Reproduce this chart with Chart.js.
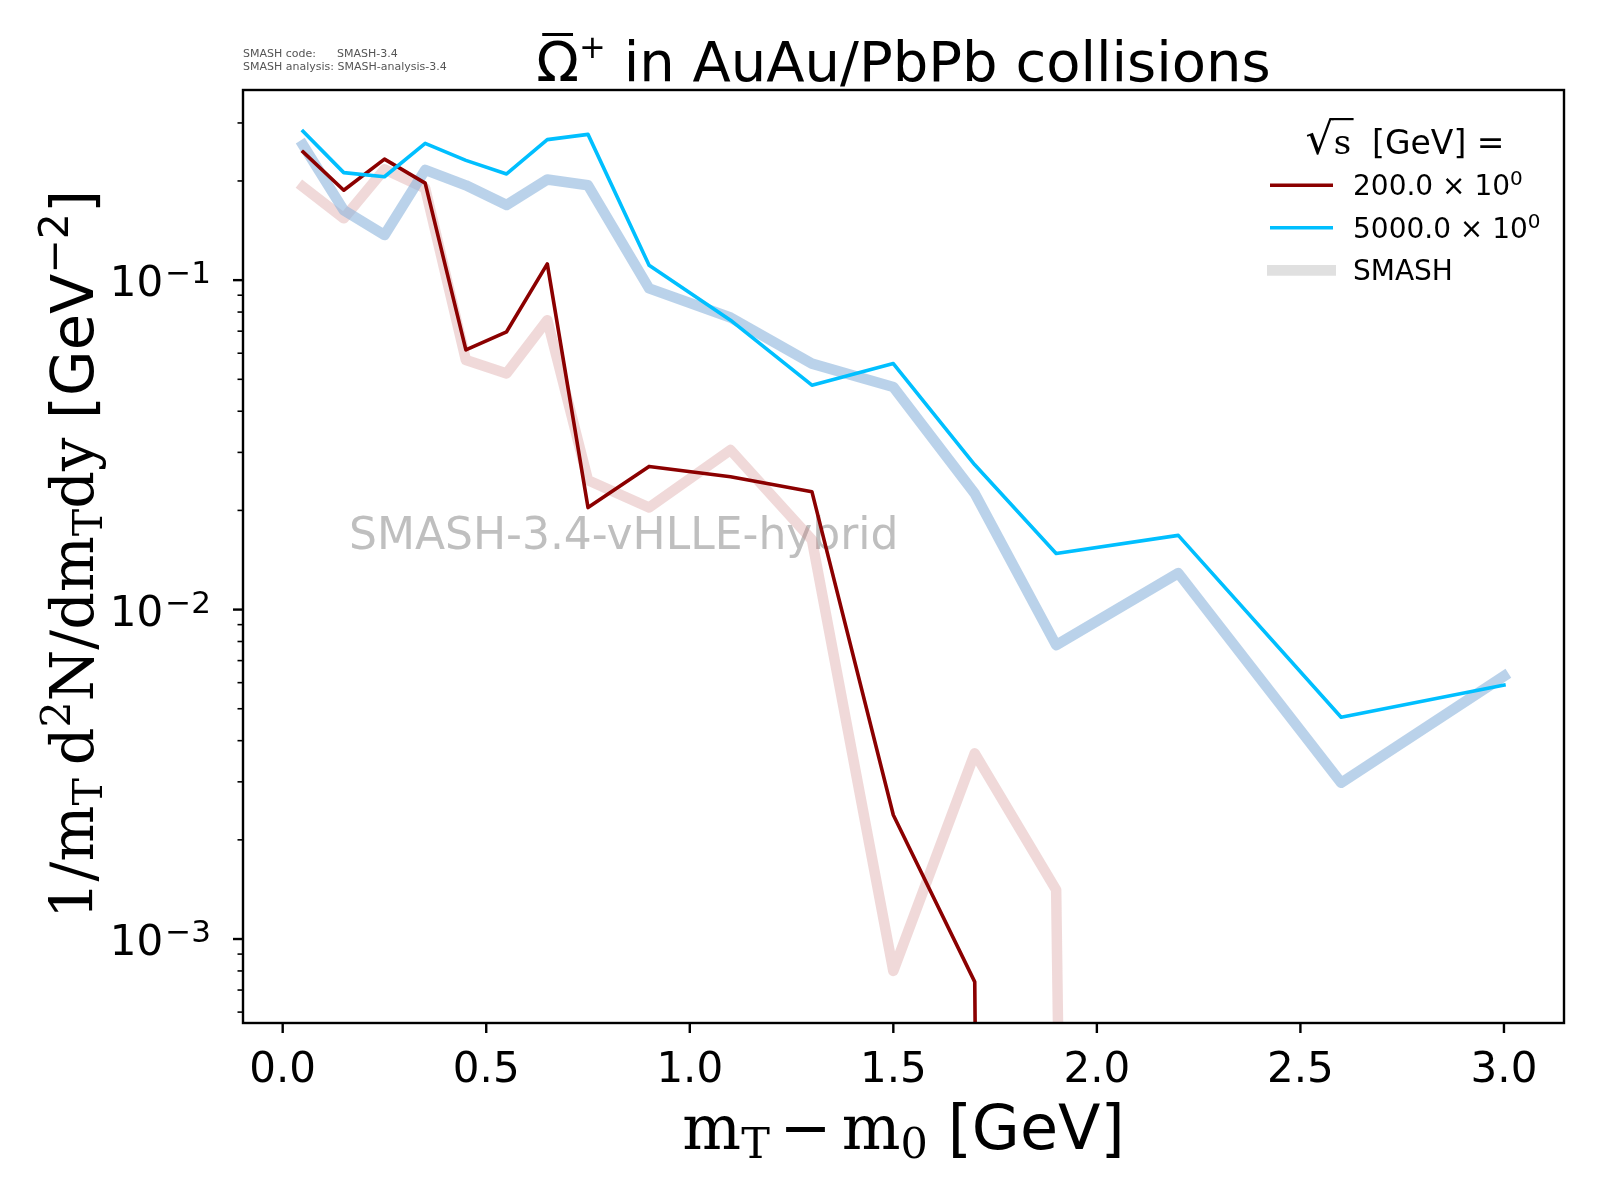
<!DOCTYPE html>
<html>
<head>
<meta charset="utf-8">
<script src="https://cdn.jsdelivr.net/npm/chart.js@4.4.1/dist/chart.umd.min.js"></script>
<style>
html,body{margin:0;padding:0;background:#fff;}
#wrap{width:1600px;height:1200px;}
</style>
</head>
<body>
<div id="wrap"><canvas id="c" width="1600" height="1200"></canvas></div>
<script>
// ---------------- data ----------------
const mT = [0.05, 0.15, 0.25, 0.35, 0.45, 0.55, 0.65, 0.75, 0.9, 1.1, 1.3, 1.5, 1.7, 1.9, 2.2, 2.6, 3.0];
const y200 = [0.245, 0.1875, 0.233, 0.197, 0.0614, 0.0697, 0.112, 0.0204, 0.0272, 0.0253, 0.0228, 0.00238, 0.000741, 0, 0, 0, 0];
const y5000 = [0.283, 0.212, 0.206, 0.260, 0.231, 0.210, 0.267, 0.277, 0.111, 0.0756, 0.048, 0.0558, 0.0275, 0.0148, 0.0168, 0.00471, 0.0059];
const smash200 = [0.192, 0.154, 0.217, 0.190, 0.0572, 0.0521, 0.0756, 0.0247, 0.0204, 0.0305, 0.0163, 0.0008, 0.00366, 0.00141, 0, 0, 0];
const smash5000 = [0.257, 0.163, 0.137, 0.216, 0.194, 0.169, 0.202, 0.194, 0.0944, 0.077, 0.0558, 0.0474, 0.0225, 0.0078, 0.0129, 0.00298, 0.00628];

const xTicks = [0, 0.5, 1.0, 1.5, 2.0, 2.5, 3.0];
const yMajorTicks = [1e-3, 1e-2, 1e-1];
const yMajorExp = ["−3", "−2", "−1"];
const legendEnergies = ["200.0", "5000.0"];
const legendSmash = "SMASH";
const titleMain = " in AuAu/PbPb collisions";
const watermark = "SMASH-3.4-vHLLE-hybrid";
const infoLines = ["SMASH code:      SMASH-3.4", "SMASH analysis: SMASH-analysis-3.4"];

const X_MIN = -0.0975, X_MAX = 3.1475;
const Y_MIN = 5.56e-4, Y_MAX = 0.3777;

const SANS = '"DejaVu Sans"';
const SERIF = '"DejaVu Serif"';

// zero values are clipped far below the axis (like a log-scale clip)
const toPts = ys => mT.map((x, i) => ({x: x, y: ys[i] > 0 ? ys[i] : 1e-30}));

function rich(ctx, segs, x, y, align) {
  let w = 0;
  for (const s of segs) {
    if (s.gap) { w += s.gap; continue; }
    ctx.font = s.f; s.w = ctx.measureText(s.t).width; w += s.w;
  }
  let cx = align === 'center' ? x - w / 2 : (align === 'right' ? x - w : x);
  const x0 = cx;
  ctx.textAlign = 'left';
  for (const s of segs) {
    if (s.gap) { cx += s.gap; continue; }
    ctx.font = s.f;
    s.x = cx;
    ctx.fillText(s.t, cx, y + (s.dy || 0));
    cx += s.w;
  }
  return {x0: x0, w: w};
}

const decor = {
  id: 'decor',
  beforeDatasetsDraw(chart) {
    const ctx = chart.ctx;
    ctx.save();
    ctx.font = '44px ' + SANS;
    ctx.fillStyle = '#bfbfbf';
    ctx.textAlign = 'left';
    ctx.textBaseline = 'alphabetic';
    ctx.fillText(watermark, 349, 549);
    ctx.restore();
  },
  afterDraw(chart) {
    const ctx = chart.ctx;
    const ca = chart.chartArea;
    const xs = chart.scales.x, ys = chart.scales.y;
    ctx.save();
    ctx.strokeStyle = '#000';
    ctx.fillStyle = '#000';
    ctx.textBaseline = 'alphabetic';
    // spines
    ctx.lineWidth = 2.4;
    ctx.strokeRect(ca.left, ca.top, ca.right - ca.left, ca.bottom - ca.top);
    // x ticks
    for (const v of xTicks) {
      const px = xs.getPixelForValue(v);
      ctx.beginPath(); ctx.moveTo(px, ca.bottom); ctx.lineTo(px, ca.bottom + 10); ctx.stroke();
    }
    // y ticks
    for (let e = -4; e <= 0; e++) {
      for (let k = 1; k <= 9; k++) {
        const v = k * Math.pow(10, e);
        if (v < Y_MIN || v > Y_MAX) continue;
        const py = ys.getPixelForValue(v);
        ctx.lineWidth = k === 1 ? 2.4 : 1.6;
        const len = k === 1 ? 10 : 5.5;
        ctx.beginPath(); ctx.moveTo(ca.left, py); ctx.lineTo(ca.left - len, py); ctx.stroke();
      }
    }
    // y tick labels
    yMajorTicks.forEach((v, i) => {
      const py = ys.getPixelForValue(v);
      rich(ctx, [{t: '10', f: '42px ' + SANS}, {gap: 2}, {t: yMajorExp[i], f: '31px ' + SANS, dy: -13}], 211, py + 16, 'right');
    });
    // title
    const cx = (ca.left + ca.right) / 2;
    const tr = rich(ctx, [
      {t: 'Ω', f: '56px ' + SANS},
      {t: '+', f: '32px ' + SANS, dy: -23},
      {t: titleMain, f: '56px ' + SANS}
    ], cx, 81, 'center');
    ctx.font = '56px ' + SANS;
    const ow = ctx.measureText('Ω').width;
    ctx.fillRect(tr.x0 + 6, 81 - 48, ow - 12, 3);
    // x label
    rich(ctx, [
      {t: 'm', f: '62px ' + SERIF},
      {t: 'T', f: '43px ' + SERIF, dy: 9},
      {gap: 10},
      {t: '−', f: '62px ' + SERIF},
      {gap: 10},
      {t: 'm', f: '62px ' + SERIF},
      {t: '0', f: '43px ' + SERIF, dy: 9},
      {t: ' [GeV]', f: '62px ' + SANS}
    ], cx, 1149, 'center');
    // y label (rotated)
    ctx.save();
    ctx.translate(93, (ca.top + ca.bottom) / 2 - 2);
    ctx.rotate(-Math.PI / 2);
    rich(ctx, [
      {t: '1/m', f: '59px ' + SERIF},
      {t: 'T', f: '41px ' + SERIF, dy: 9},
      {gap: 13},
      {t: 'd', f: '59px ' + SERIF},
      {t: '2', f: '41px ' + SERIF, dy: -23},
      {t: 'N/dm', f: '59px ' + SERIF},
      {t: 'T', f: '41px ' + SERIF, dy: 9},
      {t: 'dy', f: '59px ' + SERIF},
      {t: ' [GeV', f: '59px ' + SANS},
      {t: '−2', f: '41px ' + SANS, dy: -25},
      {t: ']', f: '59px ' + SANS}
    ], 0, 0, 'center');
    ctx.restore();
    // info text
    ctx.font = '11px ' + SANS;
    ctx.fillStyle = '#555';
    ctx.textAlign = 'left';
    ctx.fillText(infoLines[0], 243, 57);
    ctx.fillText(infoLines[1], 243, 70);
    // legend
    ctx.fillStyle = '#000';
    const lx0 = 1270, lx1 = 1333, tx = 1353;
    // legend title: sqrt(s) [GeV] =
    const lt = rich(ctx, [
      {t: '√', f: '44px ' + SERIF},
      {t: 's', f: '34px ' + SERIF},
      {t: '  [GeV] =', f: '33px ' + SANS}
    ], 1405, 154, 'center');
    ctx.font = '44px ' + SERIF;
    const rm = ctx.measureText('√');
    ctx.font = '34px ' + SERIF;
    const sw = ctx.measureText('s').width;
    ctx.fillRect(lt.x0 + rm.width - 1.5, 154 - rm.actualBoundingBoxAscent, sw + 4, 2.2);
    const entries = [
      {y: 185.3, color: '#8b0000', w: 3.6, txt: legendEnergies[0]},
      {y: 227.7, color: '#00bfff', w: 3.6, txt: legendEnergies[1]},
      {y: 270.3, color: '#e0e0e0', w: 10.7, txt: null}
    ];
    entries.forEach(en => {
      ctx.strokeStyle = en.color;
      ctx.lineWidth = en.w;
      ctx.lineCap = 'butt';
      ctx.beginPath();
      if (en.txt === null) { ctx.moveTo(1267, en.y); ctx.lineTo(1336, en.y); }
      else { ctx.moveTo(lx0, en.y); ctx.lineTo(lx1, en.y); }
      ctx.stroke();
      ctx.fillStyle = '#000';
      if (en.txt === null) {
        ctx.font = '28px ' + SANS; ctx.textAlign = 'left';
        ctx.fillText(legendSmash, tx, en.y + 10);
      } else {
        rich(ctx, [
          {t: en.txt + ' × 10', f: '28px ' + SANS},
          {t: '0', f: '20px ' + SANS, dy: -10}
        ], tx, en.y + 10, 'left');
      }
    });
    ctx.restore();
  }
};

new Chart(document.getElementById('c').getContext('2d'), {
  type: 'line',
  data: {
    datasets: [
      {label: '200.0', data: toPts(y200), borderColor: '#8b0000', borderWidth: 3.6, order: 1, clip: 0},
      {label: '5000.0', data: toPts(y5000), borderColor: '#00bfff', borderWidth: 3.6, order: 0, clip: 0},
      {label: 'SMASH 200.0', data: toPts(smash200), borderColor: 'rgba(200,120,120,0.28)', borderWidth: 10.5, order: 3, clip: 0},
      {label: 'SMASH 5000.0', data: toPts(smash5000), borderColor: 'rgba(140,180,220,0.6)', borderWidth: 10.5, order: 2, clip: 0}
    ]
  },
  options: {
    responsive: false,
    animation: false,
    devicePixelRatio: 1,
    layout: {padding: {top: 90, right: 36, left: 0, bottom: 0}},
    elements: {
      point: {radius: 0, hoverRadius: 0},
      line: {tension: 0, borderJoinStyle: 'round', borderCapStyle: 'square', fill: false}
    },
    plugins: {legend: {display: false}, tooltip: {enabled: false}, title: {display: false}},
    scales: {
      x: {
        type: 'linear', min: X_MIN, max: X_MAX,
        grid: {display: false, drawTicks: false},
        border: {display: false},
        ticks: {
          stepSize: 0.5, includeBounds: false, autoSkip: false, maxRotation: 0,
          padding: 23, color: '#000', font: {family: 'DejaVu Sans', size: 42},
          callback: v => Number(v).toFixed(1)
        },
        afterFit: s => { s.height = 177; }
      },
      y: {
        type: 'logarithmic', min: Y_MIN, max: Y_MAX,
        grid: {display: false, drawTicks: false},
        border: {display: false},
        ticks: {display: false},
        afterFit: s => { s.width = 243; }
      }
    }
  },
  plugins: [decor]
});
</script>
</body>
</html>
